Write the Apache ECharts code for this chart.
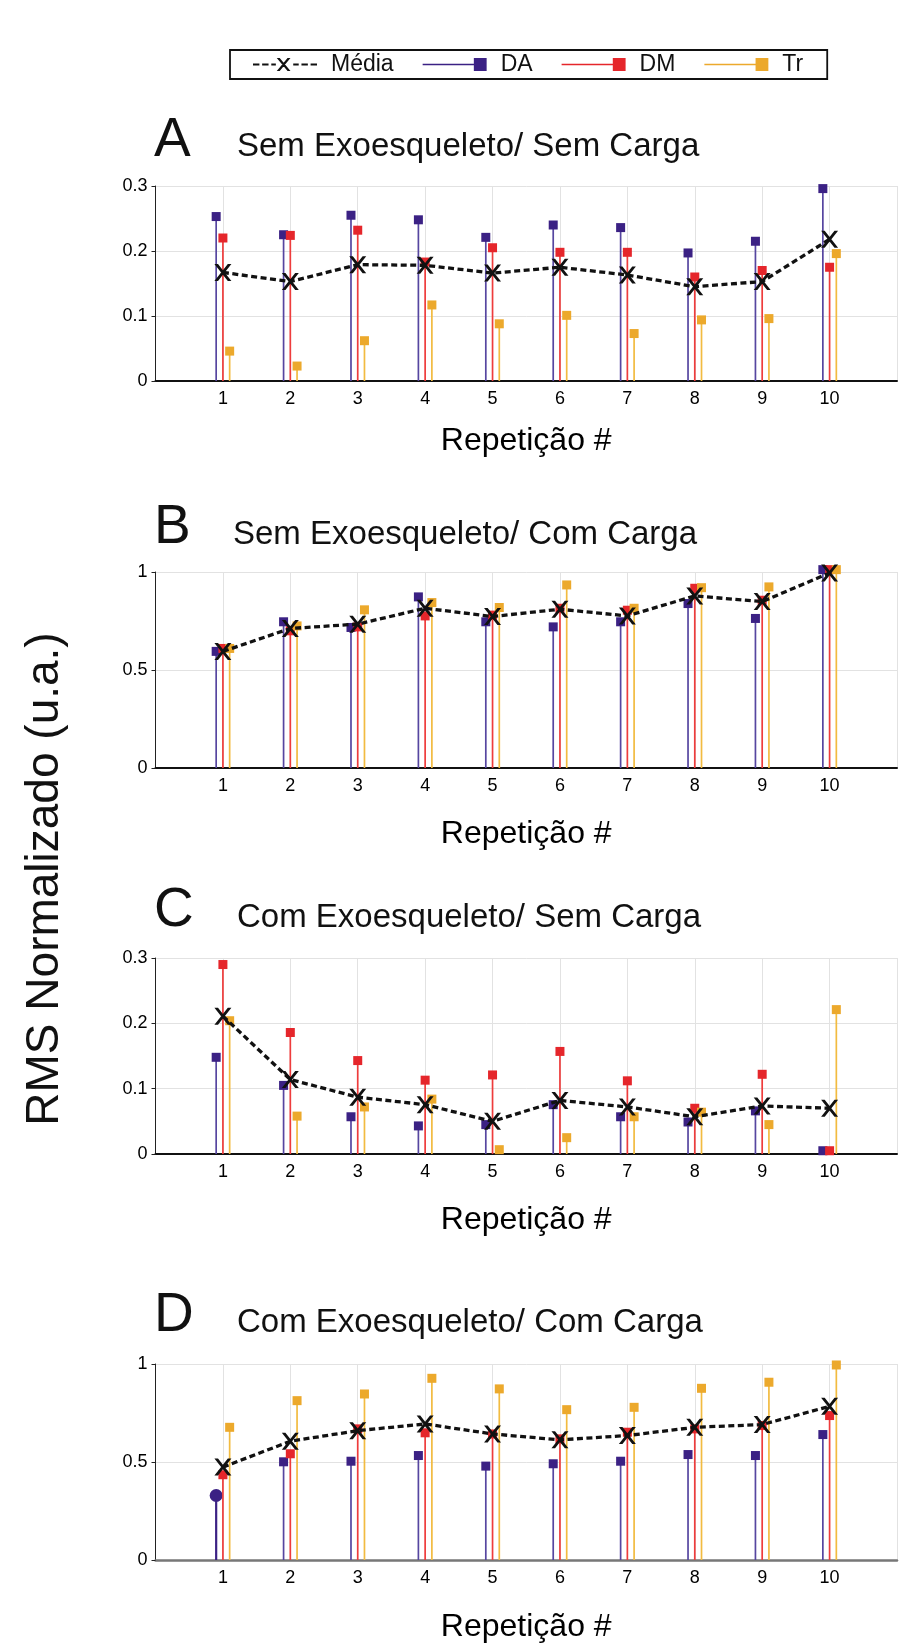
<!DOCTYPE html>
<html>
<head>
<meta charset="utf-8">
<title>RMS Normalizado</title>
<script src="https://cdn.jsdelivr.net/npm/echarts@6.0.0/dist/echarts.min.js"></script>
<style>
  html, body { margin: 0; padding: 0; background: #fff; }
  #myChart { width: 900px; height: 1646px; }
</style>
</head>
<body>
<div id="myChart"></div>
<script>
// repetitions on the x axis
const reps = [1, 2, 3, 4, 5, 6, 7, 8, 9, 10];

// A - Sem Exoesqueleto / Sem Carga
const mediaA = [0.167, 0.153, 0.179, 0.178, 0.166, 0.175, 0.163, 0.145, 0.153, 0.218];
const daA = [0.253, 0.225, 0.255, 0.248, 0.221, 0.240, 0.236, 0.197, 0.215, 0.296];
const dmA = [0.220, 0.224, 0.232, 0.183, 0.205, 0.198, 0.198, 0.160, 0.170, 0.175];
const trA = [0.046, 0.023, 0.062, 0.117, 0.088, 0.101, 0.073, 0.094, 0.096, 0.196];

// B - Sem Exoesqueleto / Com Carga
const mediaB = [0.595, 0.712, 0.734, 0.815, 0.773, 0.810, 0.776, 0.878, 0.849, 0.995];
const daB = [0.595, 0.746, 0.717, 0.873, 0.746, 0.720, 0.746, 0.839, 0.763, 1.012];
const dmB = [0.610, 0.700, 0.720, 0.776, 0.780, 0.815, 0.805, 0.917, 0.856, 1.012];
const trB = [0.610, 0.725, 0.807, 0.844, 0.819, 0.934, 0.815, 0.920, 0.924, 1.012];

// C - Com Exoesqueleto / Sem Carga
const mediaC = [0.211, 0.114, 0.087, 0.0755, 0.050, 0.082, 0.072, 0.057, 0.0735, 0.070];
const daC = [0.148, 0.105, 0.057, 0.043, 0.045, 0.0755, 0.057, 0.049, 0.066, 0.005];
const dmC = [0.290, 0.186, 0.143, 0.113, 0.121, 0.157, 0.112, 0.070, 0.122, 0.005];
const trC = [0.204, 0.058, 0.072, 0.084, 0.0066, 0.025, 0.057, 0.064, 0.045, 0.221];

// D - Com Exoesqueleto / Com Carga
const mediaD = [0.474, 0.606, 0.660, 0.694, 0.643, 0.613, 0.635, 0.677, 0.691, 0.784];
const daD = [0.329, 0.501, 0.504, 0.533, 0.479, 0.491, 0.504, 0.538, 0.533, 0.640];
const dmD = [0.435, 0.542, 0.669, 0.649, 0.643, 0.618, 0.652, 0.669, 0.686, 0.737];
const trD = [0.677, 0.813, 0.847, 0.927, 0.873, 0.767, 0.779, 0.876, 0.907, 0.995];

// y axis ticks per panel
const yMaxes = [0.3, 1, 0.3, 1];
const yIntervals = [0.1, 0.5, 0.1, 0.5];

const letters = ['A', 'B', 'C', 'D'];
const titles = [
  'Sem Exoesqueleto/ Sem Carga',
  'Sem Exoesqueleto/ Com Carga',
  'Com Exoesqueleto/ Sem Carga',
  'Com Exoesqueleto/ Com Carga'
];

const panelData = [
  [mediaA, daA, dmA, trA],
  [mediaB, daB, dmB, trB],
  [mediaC, daC, dmC, trC],
  [mediaD, daD, dmD, trD]
];

// the one DA point drawn as a round marker (panel D, repetition 1)
const circlePoint = { panel: 3, index: 0 };

// layout
const FONT = "'Liberation Sans', Arial, sans-serif";
const gridTops = [186, 572, 958, 1364];
const gridHeights = [195, 196, 196, 196];
const titleBase = [157.5, 545, 928, 1333];
const titleX = [237, 233, 237, 237];
const nameGaps = [44, 50, 50, 51];
const xLineColors = ['#111', '#111', '#111', '#777'];

// stem styling: offset in x units, stem colour, marker colour
const stemStyles = {
  DA: { offset: -0.1, stem: '#5646a0', mark: '#3b2184' },
  DM: { offset: 0, stem: '#ee3c3c', mark: '#e5262b' },
  Tr: { offset: 0.1, stem: '#f2bb40', mark: '#eca92c' }
};

const X_SYMBOL = 'path://M0,0L3.6,0L17,17L13.4,17ZM13.4,0L17,0L3.6,17L0,17Z';
const MEDIA_ICON = 'path://M0,5.8H7V8.2H0ZM10,5.8H17V8.2H10ZM20,5.8H25V8.2H20Z' +
  'M26,0L29.2,0L41,14L37.8,14ZM37.8,0L41,0L29.2,14L26,14Z' +
  'M44,5.8H50V8.2H44ZM53,5.8H60V8.2H53ZM63,5.8H70V8.2H63Z';
const STEM_ICON = 'path://M0,6.3H48V7.7H0ZM48,1H60V13H48Z';

function stemRenderer(name, panel) {
  const s = stemStyles[name];
  return function (params, api) {
    const x = api.value(0) + s.offset;
    const p0 = api.coord([x, 0]);
    const p1 = api.coord([x, api.value(1)]);
    const round = name === 'DA' && panel === circlePoint.panel && params.dataIndex === circlePoint.index;
    const mark = round
      ? { type: 'circle', shape: { cx: p1[0], cy: p1[1], r: 6.5 }, style: { fill: s.mark } }
      : { type: 'rect', shape: { x: p1[0] - 4.5, y: p1[1] - 4.5, width: 9, height: 9 }, style: { fill: s.mark } };
    return {
      type: 'group',
      children: [
        { type: 'line', shape: { x1: p0[0], y1: p0[1], x2: p1[0], y2: p1[1] },
          style: { stroke: round ? s.mark : s.stem, lineWidth: round ? 2.2 : 1.7 } },
        mark
      ]
    };
  };
}

const grids = [], xAxes = [], yAxes = [], series = [], graphics = [];

panelData.forEach((arrs, i) => {
  grids.push({ left: 155.5, right: -5, top: gridTops[i], height: gridHeights[i] });
  xAxes.push({
    type: 'value', gridIndex: i, min: 0, max: 11, interval: 1,
    axisLine: { show: true, onZero: false, lineStyle: { color: xLineColors[i], width: i === 3 ? 2.5 : 2 } },
    axisTick: { show: false },
    splitLine: { show: true, lineStyle: { color: '#e2e2e2', width: 1 } },
    axisLabel: {
      margin: 9, fontSize: 18, fontFamily: FONT, color: '#000',
      formatter: v => (v >= 1 && v <= 10 ? String(v) : '')
    },
    name: 'Repetição #', nameLocation: 'middle', nameGap: nameGaps[i],
    nameTextStyle: { fontSize: 32, fontFamily: FONT, color: '#000' }
  });
  yAxes.push({
    type: 'value', gridIndex: i, min: 0, max: yMaxes[i], interval: yIntervals[i],
    axisLine: { show: true, lineStyle: { color: '#222', width: 1 } },
    axisTick: { show: true, length: 4, lineStyle: { color: '#222' } },
    splitLine: { show: true, lineStyle: { color: '#e2e2e2', width: 1 } },
    axisLabel: { margin: 8, fontSize: 18, fontFamily: FONT, color: '#000' }
  });

  ['DA', 'DM', 'Tr'].forEach((name, k) => {
    series.push({
      name: name, type: 'custom', xAxisIndex: i, yAxisIndex: i,
      itemStyle: { color: stemStyles[name].mark },
      renderItem: stemRenderer(name, i),
      data: reps.map((r, j) => [r, arrs[k + 1][j]]),
      z: 2
    });
  });

  series.push({
    name: 'Média', type: 'line', xAxisIndex: i, yAxisIndex: i,
    data: reps.map((r, j) => [r, arrs[0][j]]),
    symbol: X_SYMBOL, symbolSize: 17,
    itemStyle: { color: '#111' },
    lineStyle: { color: '#111', width: 3.3, type: [6, 3.5] },
    z: 5
  });

  graphics.push({
    type: 'text', x: 154, y: titleBase[i] - 17,
    style: { text: letters[i], font: '55px ' + FONT, fill: '#111', verticalAlign: 'middle' }
  });
  graphics.push({
    type: 'text', x: titleX[i], y: titleBase[i] - 10.2,
    style: { text: titles[i], font: '33px ' + FONT, fill: '#111', verticalAlign: 'middle' }
  });
});

graphics.push({
  type: 'text', x: 45, y: 879, rotation: Math.PI / 2,
  style: { text: 'RMS Normalizado (u.a.)', font: '46px ' + FONT, fill: '#111', align: 'center', verticalAlign: 'middle' }
});

const option = {
  animation: false,
  backgroundColor: '#fff',
  legend: {
    left: 230, top: 50,
    orient: 'horizontal',
    selectedMode: false,
    itemWidth: 64, itemHeight: 15, itemGap: 29,
    padding: [3, 24, 3, 23],
    borderColor: '#111', borderWidth: 1.8,
    itemStyle: { borderWidth: 0 },
    textStyle: { fontSize: 23, fontFamily: FONT, color: '#111', padding: [0, 0, 0, 9] },
    data: [
      { name: 'Média', icon: MEDIA_ICON },
      { name: 'DA', icon: STEM_ICON },
      { name: 'DM', icon: STEM_ICON },
      { name: 'Tr', icon: STEM_ICON }
    ]
  },
  grid: grids,
  xAxis: xAxes,
  yAxis: yAxes,
  graphic: graphics,
  series: series
};

let ECharts = echarts.init(document.getElementById('myChart'));
ECharts.setOption(option);
</script>
</body>
</html>
